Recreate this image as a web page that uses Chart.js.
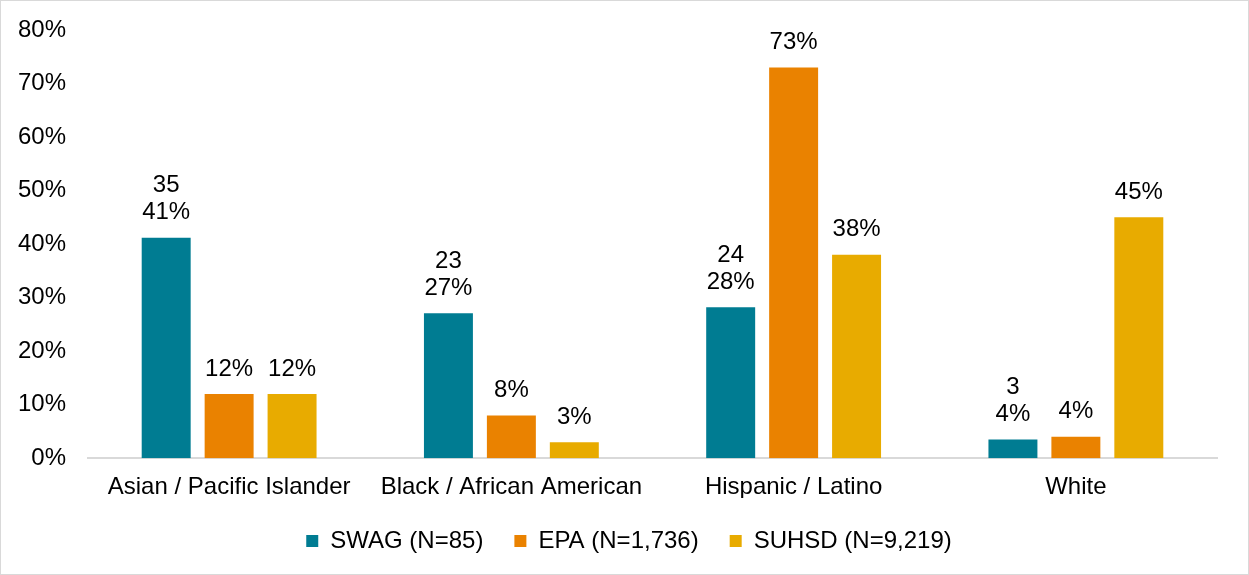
<!DOCTYPE html>
<html>
<head>
<meta charset="utf-8">
<script src="https://cdn.jsdelivr.net/npm/chart.js@4"></script>
<style>
  html, body { margin: 0; padding: 0; background: #fff; }
  #wrap { width: 1249px; height: 575px; box-sizing: border-box; border: 1px solid #d9d9d9; }
  canvas { display: block; }
</style>
</head>
<body>
<div id="wrap"><canvas id="grafico" width="1247" height="573"></canvas></div>
<script>
// categorias e séries
const categorias = ["Asian / Pacific Islander", "Black / African American", "Hispanic / Latino", "White"];
const nomesSeries = ["SWAG (N=85)", "EPA (N=1,736)", "SUHSD (N=9,219)"];
const swag = [41.2, 27.1, 28.2, 3.5];
const swagContagem = [35, 23, 24, 3];
const epa = [12, 8, 73, 4];
const suhsd = [12, 3, 38, 45];
const ticksY = [0, 10, 20, 30, 40, 50, 60, 70, 80];

const cores = ["rgb(0,124,146)", "rgb(234,130,0)", "rgb(232,171,0)"];
const fonte = "'Liberation Sans', Arial, sans-serif";

// rótulos acima das barras
const rotulosPlugin = {
    id: "rotulos",
    afterLayout(chart) {
        // legenda um pouco à direita, como no original
        chart.legend.left += 20;
        chart.legend.right += 20;
    },
    afterDatasetsDraw(chart) {
        const ctx = chart.ctx;
        ctx.save();
        ctx.font = "24px " + fonte;
        ctx.fillStyle = "#000";
        ctx.textAlign = "center";
        ctx.textBaseline = "middle";
        chart.data.datasets.forEach((ds, i) => {
            const meta = chart.getDatasetMeta(i);
            meta.data.forEach((bar, j) => {
                const y = bar.y - 25;
                ctx.fillText(Math.round(ds.data[j]) + "%", bar.x, y);
                if (i === 0) {
                    ctx.fillText(String(swagContagem[j]), bar.x, y - 27);
                }
            });
        });
        ctx.restore();
    }
};

new Chart(document.getElementById("grafico"), {
    type: "bar",
    data: {
        labels: categorias,
        datasets: [swag, epa, suhsd].map((d, i) => ({
            label: nomesSeries[i],
            data: d,
            backgroundColor: cores[i],
            categoryPercentage: 0.669,
            barPercentage: 0.778
        }))
    },
    options: {
        responsive: false,
        animation: false,
        layout: { padding: { top: 29, right: 31, left: 0, bottom: 11 } },
        plugins: {
            legend: {
                position: "bottom",
                labels: {
                    boxWidth: 12,
                    boxHeight: 12,
                    padding: 31,
                    color: "#000",
                    font: { size: 24, family: fonte }
                }
            },
            tooltip: { enabled: false }
        },
        scales: {
            x: {
                afterFit(escala) { escala.height -= 19; },
                grid: { display: false, drawTicks: false },
                border: { color: "#d9d9d9", width: 2 },
                ticks: {
                    padding: 15,
                    color: "#000",
                    font: { size: 24, family: fonte }
                }
            },
            y: {
                min: 0,
                max: 80,
                afterFit(escala) {
                    escala.width = 87;
                    escala.paddingTop = 0;
                    escala.paddingBottom = 0;
                },
                afterBuildTicks(escala) { escala.ticks = ticksY.map(v => ({ value: v })); },
                grid: { display: false, drawTicks: false },
                border: { display: false },
                ticks: {
                    padding: 22,
                    color: "#000",
                    font: { size: 24, family: fonte },
                    callback: v => v + "%"
                }
            }
        }
    },
    plugins: [rotulosPlugin]
});
</script>
</body>
</html>
